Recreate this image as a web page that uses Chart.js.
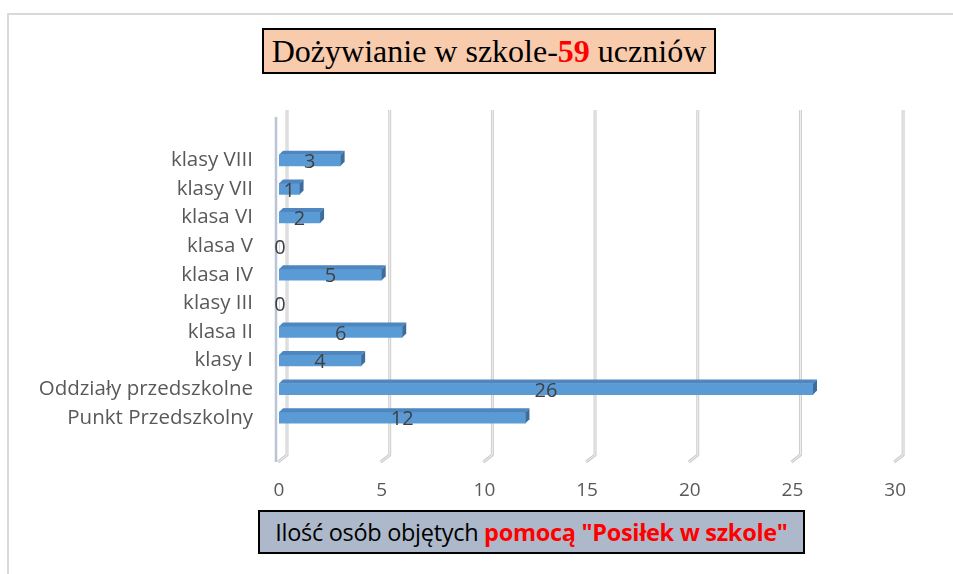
<!DOCTYPE html>
<html>
<head>
<meta charset="utf-8">
<title>Dożywianie w szkole</title>
<script src="https://cdn.jsdelivr.net/npm/chart.js@4"></script>
<style>
  body { margin: 0; background: #fff; }
  #wrap { position: relative; width: 953px; height: 574px; overflow: hidden; }
  #frame { position: absolute; left: 7px; top: 13px; width: 1000px; height: 600px;
           border-left: 2px solid #d9d9d9; border-top: 2px solid #d9d9d9; }
  #chart { position: absolute; left: 0; top: 0; }
  .box { position: absolute; border: 2px solid #000; box-sizing: border-box; white-space: nowrap; text-align: center; }
  #title { left: 262px; top: 28px; width: 454px; height: 46px; background: #f8cbad;
           font-family: "Liberation Serif", "Times New Roman", serif; font-size: 32px; line-height: 42px; color: #000; }
  #xtitle { left: 258px; top: 510px; width: 547px; height: 44px; background: #adb9ca;
            font-family: "Open Sans", sans-serif; font-size: 23.5px; line-height: 40px; color: #000; letter-spacing: -0.3px; }
  .red { color: #ff0000; font-weight: bold; }
</style>
</head>
<body>
<div id="wrap">
  <div id="frame"></div>
  <canvas id="chart" width="953" height="574"></canvas>
  <div class="box" id="title">Dożywianie w szkole-<span class="red">59</span> uczniów</div>
  <div class="box" id="xtitle">Ilość osób objętych <span class="red">pomocą "Posiłek w szkole"</span></div>
</div>
<script>
var categories = ['klasy VIII', 'klasy VII', 'klasa VI', 'klasa V', 'klasa IV',
                  'klasy III', 'klasa II', 'klasy I', 'Oddziały przedszkolne', 'Punkt Przedszkolny'];
var pupils = [3, 1, 2, 0, 5, 0, 6, 4, 26, 12];
var xTicks = [0, 5, 10, 15, 20, 25, 30];

var labelFont = '"Open Sans", sans-serif';

// back wall grid lines with a little floor slant, like the old 3D excel look
var gridPlugin = {
    id: 'grid3d',
    beforeDatasetsDraw: function(chart) {
        var ctx = chart.ctx;
        var xs = chart.scales.x;
        ctx.save();
        // value axis wall edge
        ctx.strokeStyle = '#b9c4d5';
        ctx.lineWidth = 2.5;
        ctx.beginPath();
        ctx.moveTo(chart.chartArea.left - 3, 117);
        ctx.lineTo(chart.chartArea.left - 3, 462);
        ctx.stroke();
        xTicks.forEach(function(v) {
            var px = xs.getPixelForValue(v);
            var back = px + 8;
            ctx.lineJoin = 'round';
            ctx.strokeStyle = '#cdcdcd';
            ctx.lineWidth = 3;
            ctx.beginPath();
            ctx.moveTo(back, 110);
            ctx.lineTo(back, 455);
            ctx.lineTo(px - 1, 462);
            ctx.stroke();
            ctx.strokeStyle = '#f0f0f0';
            ctx.lineWidth = 1;
            ctx.stroke();
        });
        ctx.restore();
    },
    afterDatasetsDraw: function(chart) {
        var ctx = chart.ctx;
        var meta = chart.getDatasetMeta(0);
        var d = 4, dy = 4;
        ctx.save();
        meta.data.forEach(function(bar, i) {
            var top = bar.y - bar.height / 2;
            var bottom = bar.y + bar.height / 2;
            if (bar.x - bar.base > 1) {
                // top face
                ctx.fillStyle = '#4e86c0';
                ctx.beginPath();
                ctx.moveTo(bar.base, top);
                ctx.lineTo(bar.x, top);
                ctx.lineTo(bar.x + d, top - dy);
                ctx.lineTo(bar.base + d, top - dy);
                ctx.closePath();
                ctx.fill();
                // side face
                ctx.fillStyle = '#3d6d9d';
                ctx.beginPath();
                ctx.moveTo(bar.x, top);
                ctx.lineTo(bar.x + d, top - dy);
                ctx.lineTo(bar.x + d, bottom - dy);
                ctx.lineTo(bar.x, bottom);
                ctx.closePath();
                ctx.fill();
            }
            // value label in the middle of the bar
            ctx.fillStyle = '#404040';
            ctx.font = '20px ' + labelFont;
            ctx.textAlign = 'center';
            ctx.textBaseline = 'middle';
            var cx = (bar.x + bar.base) / 2;
            if (bar.x - bar.base < 2) cx = bar.base + 1;
            ctx.fillText(String(pupils[i]), cx, bar.y + 2);
        });
        ctx.restore();
    }
};

new Chart(document.getElementById('chart'), {
    type: 'bar',
    data: {
        labels: categories,
        datasets: [{
            data: pupils,
            backgroundColor: '#5b9bd5',
            borderWidth: 0,
            barThickness: 11
        }]
    },
    options: {
        indexAxis: 'y',
        responsive: false,
        animation: false,
        layout: { padding: { left: 0, top: 146, right: 56, bottom: 0 } },
        plugins: { legend: { display: false }, tooltip: { enabled: false } },
        scales: {
            x: {
                min: 0, max: 30,
                afterBuildTicks: function(scale) {
                    scale.ticks = xTicks.map(function(v) { return { value: v }; });
                },
                afterFit: function(scale) { scale.height = 142; },
                grid: { display: false, drawTicks: false },
                border: { display: false },
                ticks: { padding: 47, maxRotation: 0, color: '#595959',
                         font: { family: labelFont, size: 19 } }
            },
            y: {
                afterFit: function(scale) { scale.width = 279; },
                grid: { display: false, drawTicks: false },
                border: { display: false },
                ticks: { padding: 26, color: '#595959', autoSkip: false,
                         font: { family: labelFont, size: 20.5 } }
            }
        }
    },
    plugins: [gridPlugin]
});
</script>
</body>
</html>
